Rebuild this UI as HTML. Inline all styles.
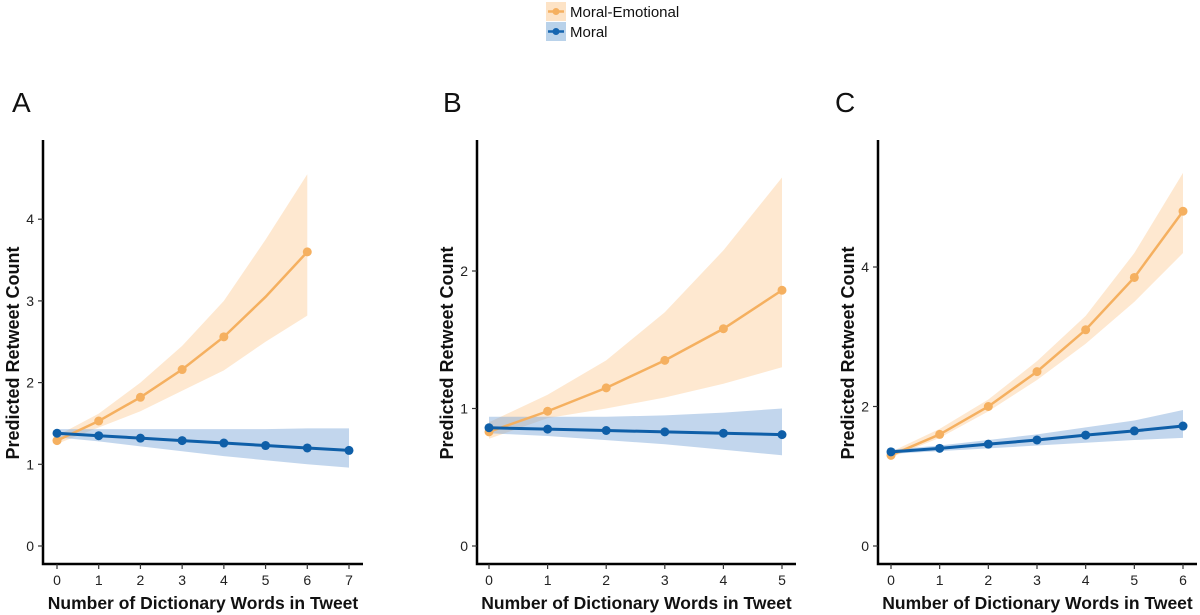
<!DOCTYPE html>
<html><head><meta charset="utf-8"><style>
body{margin:0;background:#fff;}
svg{display:block;font-family:"Liberation Sans",sans-serif;}
</style></head><body>
<svg id="chart" width="1200" height="615" viewBox="0 0 1200 615" xmlns="http://www.w3.org/2000/svg">
<g>
<g>
<rect x="546" y="2" width="20" height="19" fill="#fde3c6"/>
<line x1="548" y1="11.5" x2="564" y2="11.5" stroke="#f5b060" stroke-width="2.5"/>
<circle cx="556" cy="11.5" r="3.5" fill="#f5b060"/>
<text x="570" y="17" font-size="15" fill="#111">Moral-Emotional</text>
</g>
<g>
<rect x="546" y="22" width="20" height="19" fill="#b9d2ea"/>
<line x1="548" y1="31.5" x2="564" y2="31.5" stroke="#1565b0" stroke-width="2.5"/>
<circle cx="556" cy="31.5" r="3.5" fill="#1565b0"/>
<text x="570" y="37" font-size="15" fill="#111">Moral</text>
</g>
</g>
<g id="panels"></g>
</svg>
<script>
// Panel A data
const aX=[0,1,2,3,4,5,6,7];
const aOrange=[1.29,1.53,1.82,2.16,2.56,3.05,3.6];
const aOrangeLo=[1.25,1.45,1.65,1.9,2.15,2.5,2.82];
const aOrangeHi=[1.35,1.62,2.0,2.45,3.0,3.75,4.55];
const aBlue=[1.38,1.35,1.32,1.29,1.26,1.23,1.2,1.17];
const aBlueLo=[1.33,1.28,1.22,1.16,1.1,1.05,1.0,0.96];
const aBlueHi=[1.43,1.43,1.43,1.43,1.43,1.43,1.44,1.44];
const aYTicks=[0,1,2,3,4];
// Panel B data
const bX=[0,1,2,3,4,5];
const bOrange=[0.83,0.98,1.15,1.35,1.58,1.86];
const bOrangeLo=[0.78,0.93,1.0,1.08,1.18,1.3];
const bOrangeHi=[0.9,1.1,1.35,1.7,2.15,2.68];
const bBlue=[0.86,0.85,0.84,0.83,0.82,0.81];
const bBlueLo=[0.82,0.8,0.77,0.74,0.7,0.66];
const bBlueHi=[0.94,0.94,0.94,0.95,0.97,1.0];
const bYTicks=[0,1,2];
// Panel C data
const cX=[0,1,2,3,4,5,6];
const cOrange=[1.3,1.6,2.0,2.5,3.1,3.85,4.8];
const cOrangeLo=[1.27,1.55,1.93,2.38,2.9,3.5,4.2];
const cOrangeHi=[1.35,1.68,2.1,2.65,3.3,4.2,5.35];
const cBlue=[1.35,1.4,1.46,1.52,1.59,1.65,1.72];
const cBlueLo=[1.32,1.36,1.4,1.44,1.48,1.52,1.55];
const cBlueHi=[1.38,1.44,1.52,1.6,1.7,1.8,1.95];
const cYTicks=[0,2,4];

const NS='http://www.w3.org/2000/svg';
const root=document.getElementById('panels');
function mk(tag,attrs,parent){const e=document.createElementNS(NS,tag);for(const k in attrs)e.setAttribute(k,attrs[k]);parent.appendChild(e);return e;}

function panel(cfg){
  const g=mk('g',{},root);
  
  
  const xs=v=>cfg.x0+(cfg.x1-cfg.x0)*v/cfg.xMax;
  const ys=v=>546-v*cfg.unit;
  const lbl=mk('text',{x:cfg.lx,y:112,'font-size':28,fill:'#111'},g);lbl.textContent=cfg.id;
  
  
  function band(lo,hi,color,name){
    let d='';
    lo.forEach((v,i)=>{d+=(i?'L':'M')+xs(cfg.xv[i])+','+ys(v);});
    for(let i=hi.length-1;i>=0;i--)d+='L'+xs(cfg.xv[i])+','+ys(hi[i]);
    const p=mk('path',{d:d+'Z',fill:color},g);
    
    
  }
  function series(vals,color,name,sw,skip){
    const pts=vals.map((v,i)=>xs(cfg.xv[i])+','+ys(v)).join(' ');
    const l=mk('polyline',{points:pts,fill:'none',stroke:color,'stroke-width':sw},g);
    
    
    vals.forEach((v,i)=>{
      if(skip&&skip.includes(i))return;
      const c=mk('circle',{cx:xs(cfg.xv[i]),cy:ys(v),r:4.5,fill:color},g);
      
      
    });
  }
  band(cfg.oLo,cfg.oHi,'rgba(253,205,150,0.45)','moral-emotional-ci');
  band(cfg.bLo,cfg.bHi,'rgba(120,165,215,0.45)','moral-ci');
  series(cfg.o,'#f5b060','moral-emotional',2.5,cfg.skip);
  series(cfg.b,'#0f5fa8','moral',3);
  const ax=mk('path',{d:`M${cfg.ax},140V564H${cfg.axEnd}`,fill:'none',stroke:'#000','stroke-width':2.5},g);
  
  
  cfg.xv.forEach(v=>{
    mk('line',{x1:xs(v),x2:xs(v),y1:564,y2:569,stroke:'#333','stroke-width':1.2},g);
    const t=mk('text',{x:xs(v),y:585,'font-size':14,'text-anchor':'middle',fill:'#222'},g);t.textContent=v;
    
    
  });
  cfg.yt.forEach(v=>{
    mk('line',{x1:cfg.ax-5,x2:cfg.ax,y1:ys(v),y2:ys(v),stroke:'#333','stroke-width':1.2},g);
    const t=mk('text',{x:cfg.ax-9,y:ys(v)+5,'font-size':14,'text-anchor':'end',fill:'#222'},g);t.textContent=v;
    
    
  });
  const xt=mk('text',{x:(cfg.ax+cfg.axEnd)/2,y:609,'font-size':17.5,'font-weight':'bold','text-anchor':'middle',fill:'#111'},g);
  xt.textContent='Number of Dictionary Words in Tweet';
  
  
  const yx=cfg.ax-24, yy=353;
  const yt=mk('text',{x:yx,y:yy,'font-size':18,'font-weight':'bold','text-anchor':'middle',fill:'#111',transform:`rotate(-90 ${yx} ${yy})`},g);
  yt.textContent='Predicted Retweet Count';
  
  
}
panel({id:'A',lx:12,ax:43,axEnd:363,x0:57,x1:349,xMax:7,unit:81.7,xv:aX,o:aOrange,oLo:aOrangeLo,oHi:aOrangeHi,b:aBlue,bLo:aBlueLo,bHi:aBlueHi,yt:aYTicks,skip:[5]});
panel({id:'B',lx:443,ax:477,axEnd:796,x0:489,x1:782,xMax:5,unit:137.5,xv:bX,o:bOrange,oLo:bOrangeLo,oHi:bOrangeHi,b:bBlue,bLo:bBlueLo,bHi:bBlueHi,yt:bYTicks});
panel({id:'C',lx:835,ax:878,axEnd:1197,x0:891,x1:1183,xMax:6,unit:69.75,xv:cX,o:cOrange,oLo:cOrangeLo,oHi:cOrangeHi,b:cBlue,bLo:cBlueLo,bHi:cBlueHi,yt:cYTicks});
</script>
</body></html>
